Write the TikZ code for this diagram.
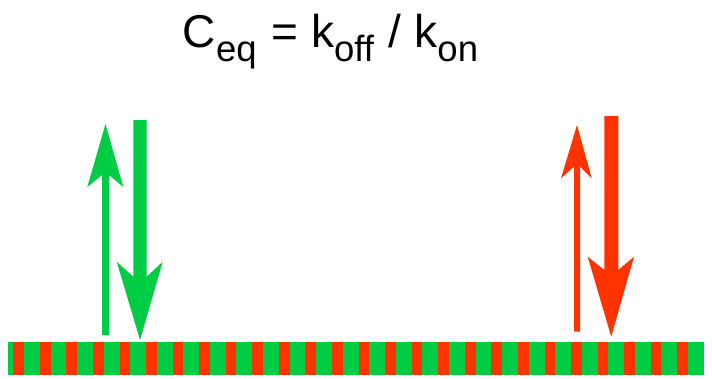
\documentclass[tikz,border=0pt]{standalone}
\usepackage{fontspec}
\setmainfont{Liberation Sans}
\definecolor{kgreen}{RGB}{0,204,68}
\definecolor{kred}{RGB}{255,51,0}
\newcommand{\subtxt}[1]{\raisebox{-14pt}{\fontsize{36.5}{40}\selectfont #1}}
\begin{document}
\begin{tikzpicture}[x=1pt,y=-1pt]
\useasboundingbox (0,0) rectangle (712,378);
% title
\node[anchor=base, inner sep=0pt, font=\fontsize{46}{52}\selectfont] (title) at (330.5,47)
  {C\subtxt{eq}\hspace{2pt} = k\subtxt{off}\hspace{2pt} / k\subtxt{on}};
% striped bar
\fill[kgreen] (8,342) rectangle (704,375);
\foreach \k in {0,...,25}{
  \fill[kred] ({13.3+\k*26.56},342) rectangle ({24+\k*26.56},375);
}
% green arrows
\fill[kgreen] (102,335) -- (102,175) -- (87.3,187) -- (105.5,124) -- (123.3,187) -- (109,175) -- (109,335) -- cycle;
\fill[kgreen] (133.3,120) -- (133.3,276.7) -- (116.7,261.7) -- (140,340) -- (162.7,261.7) -- (146.7,276.7) -- (146.7,120) -- cycle;
% red arrows
\fill[kred] (574,331.7) -- (574,166.7) -- (561,178.3) -- (577,125) -- (591.7,178.3) -- (580,166.7) -- (580,331.7) -- cycle;
\fill[kred] (604.3,116) -- (604.3,270) -- (587.7,256.7) -- (611.2,336.7) -- (634,256.7) -- (618.3,270) -- (618.3,116) -- cycle;
\end{tikzpicture}
\end{document}
